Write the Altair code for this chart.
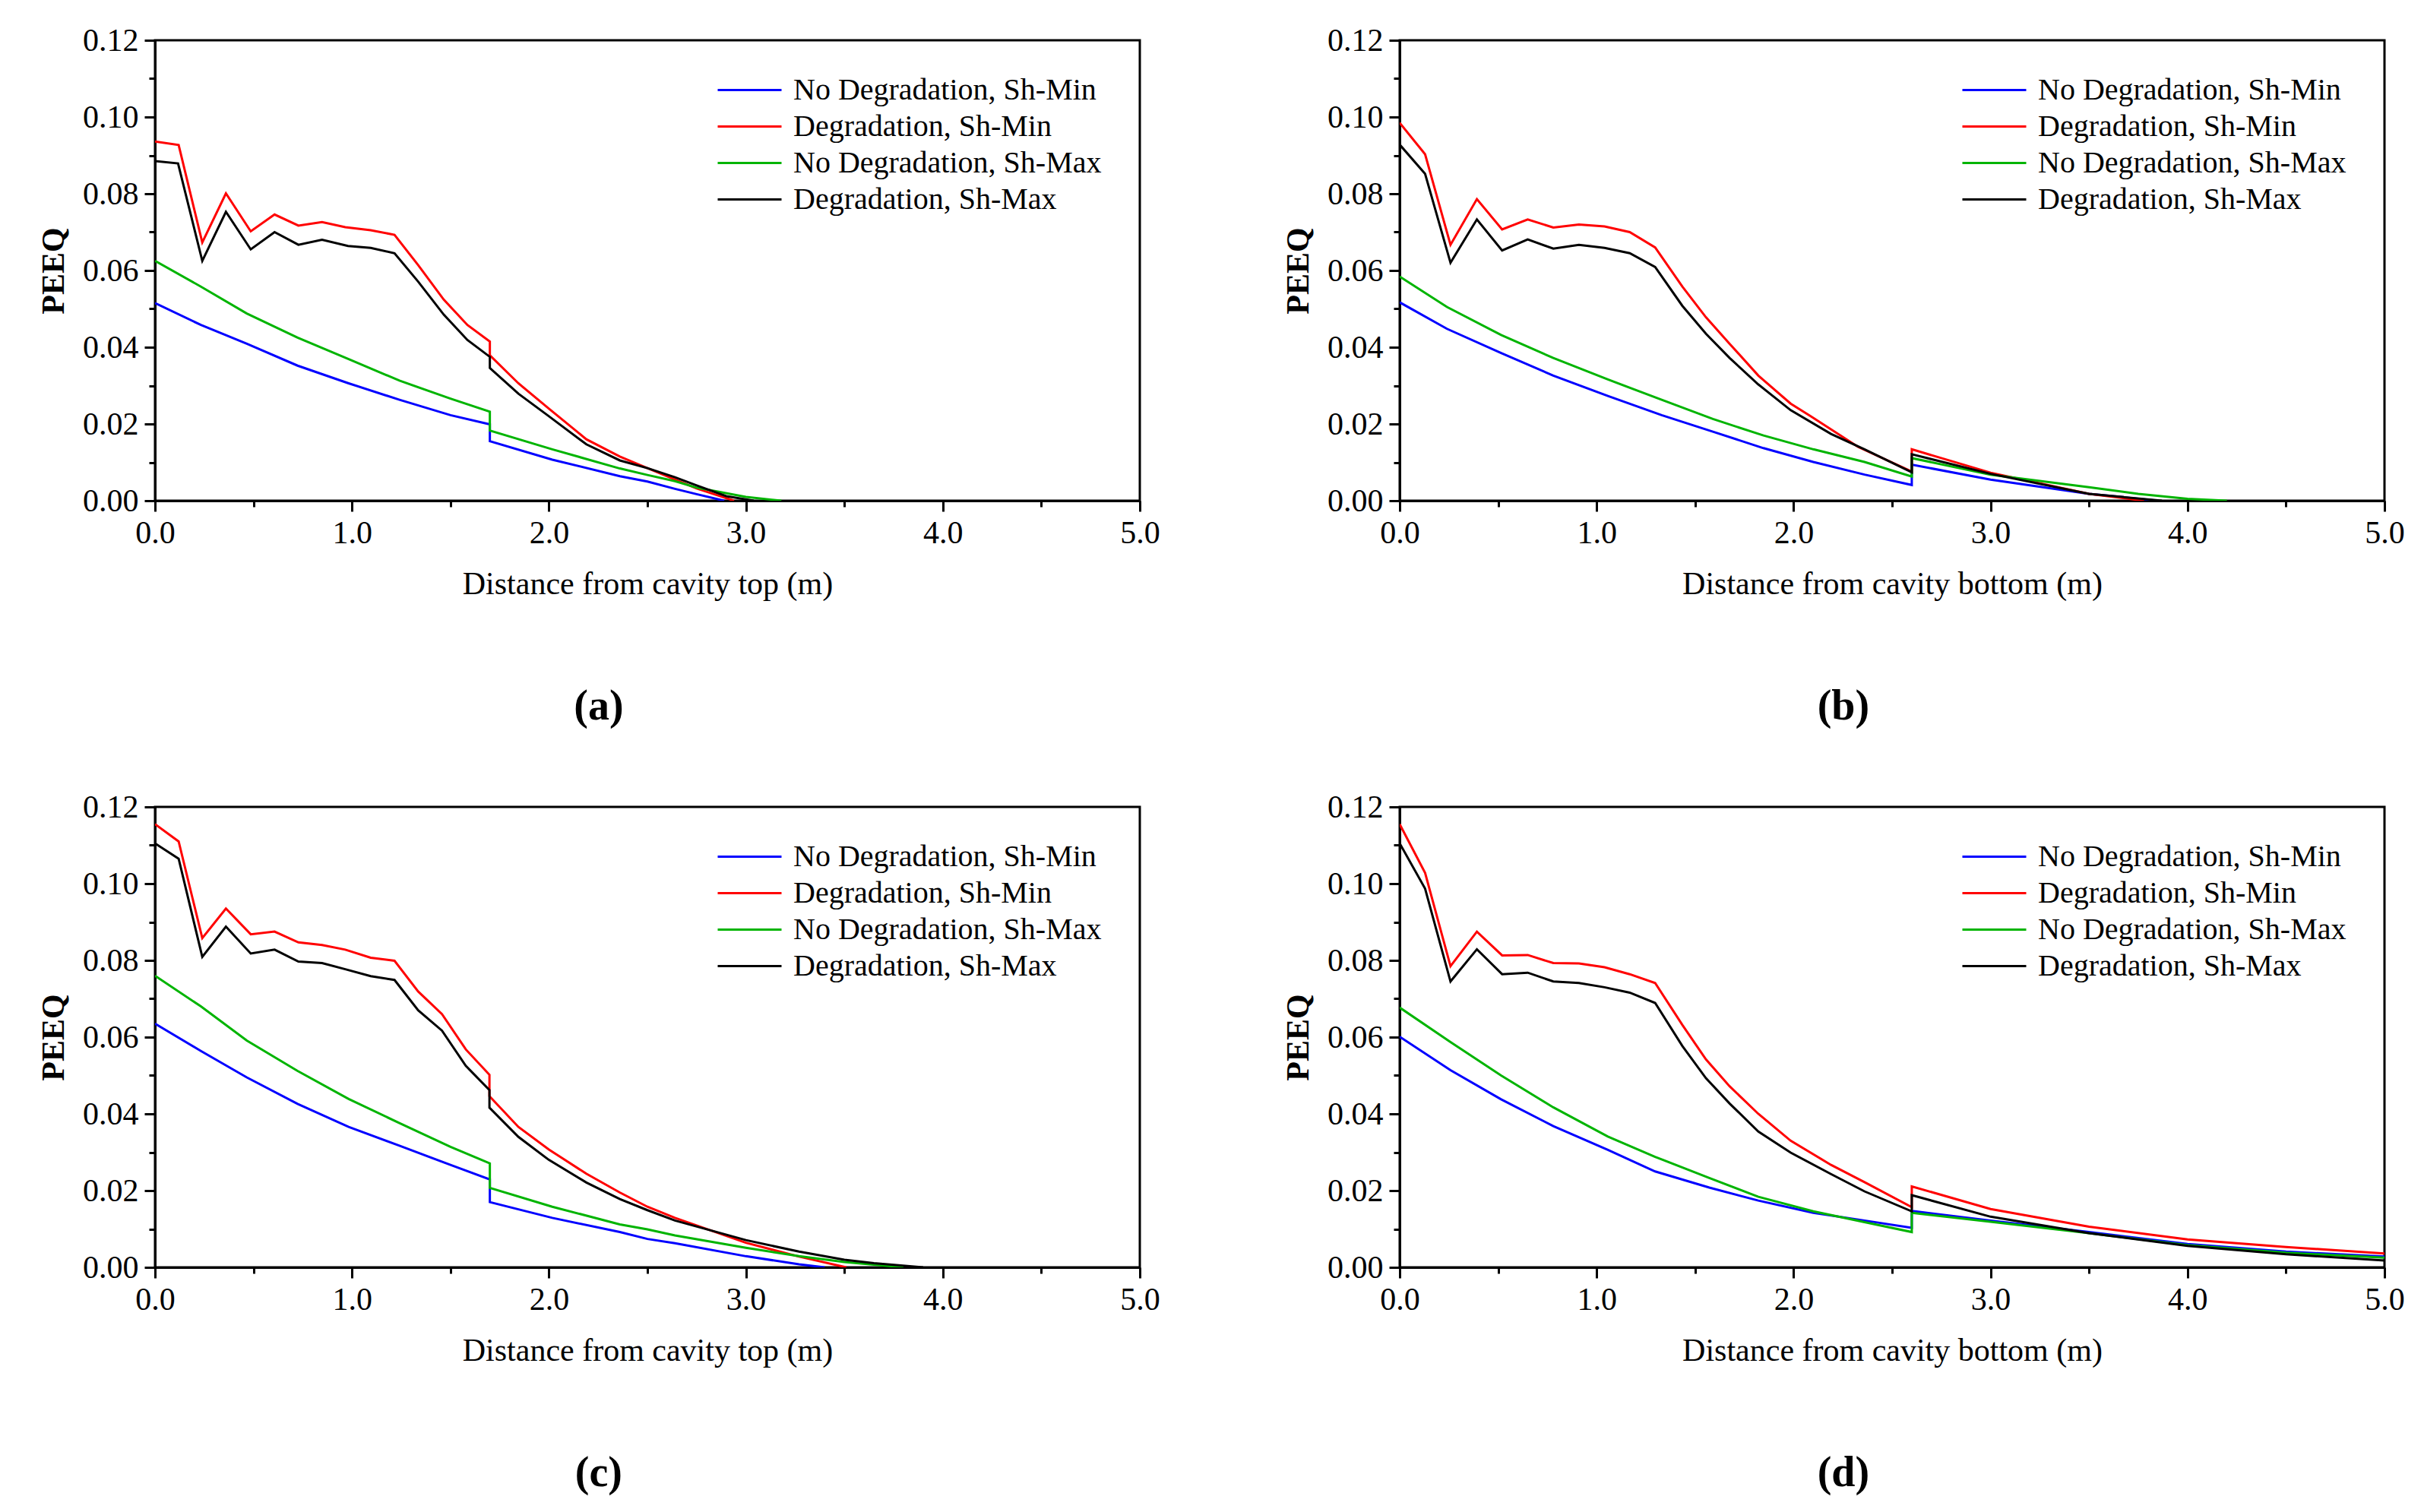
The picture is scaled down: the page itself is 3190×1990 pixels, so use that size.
import altair as alt
import pandas as pd

SERIES = ["No Degradation, Sh-Min", "Degradation, Sh-Min", "No Degradation, Sh-Max", "Degradation, Sh-Max"]
COLORS = ["#0000ff", "#ff0000", "#00b400", "#000000"]
FONT = "Liberation Serif"

# ---------------- panel (a) ----------------
a_blue_x = [0, 0.233, 0.466, 0.724, 0.983, 1.241, 1.5, 1.70, 1.70, 2.017, 2.36, 2.5, 2.64, 2.75, 2.89]
a_blue_y = [0.0515, 0.0458, 0.0409, 0.0352, 0.0306, 0.0263, 0.0223, 0.0199, 0.0155, 0.0107, 0.0064, 0.0050, 0.0031, 0.0017, 0.0]
a_red_x = [0, 0.12, 0.24, 0.36, 0.486, 0.607, 0.728, 0.848, 0.966, 1.095, 1.216, 1.336, 1.466, 1.586, 1.70, 1.70,
           1.845, 2.0, 2.19, 2.36, 2.5, 2.64, 2.75, 2.94]
a_red_y = [0.0936, 0.0927, 0.0673, 0.0801, 0.0702, 0.0746, 0.0717, 0.0726, 0.0713, 0.0705, 0.0693, 0.0614, 0.0524,
           0.0458, 0.0415, 0.0379, 0.0306, 0.0240, 0.0160, 0.0115, 0.0085, 0.0055, 0.0032, 0.0]
a_green_x = [0, 0.233, 0.466, 0.724, 0.983, 1.241, 1.5, 1.70, 1.70, 2.017, 2.36, 2.5, 2.64, 2.75, 3.0, 3.18]
a_green_y = [0.0625, 0.0558, 0.0488, 0.0425, 0.0369, 0.0313, 0.0266, 0.0232, 0.0183, 0.0134, 0.0084, 0.0067, 0.0051,
             0.0034, 0.0010, 0.0]
a_black_x = [0, 0.117, 0.24, 0.36, 0.486, 0.607, 0.728, 0.848, 0.98, 1.095, 1.216, 1.336, 1.466, 1.586, 1.70, 1.70,
             1.845, 2.0, 2.19, 2.36, 2.5, 2.64, 2.75, 2.9, 3.04]
a_black_y = [0.0885, 0.0879, 0.0625, 0.0753, 0.0655, 0.0700, 0.0667, 0.0680, 0.0664, 0.0659, 0.0645, 0.0571, 0.0485,
             0.0419, 0.0375, 0.0346, 0.0279, 0.0220, 0.0147, 0.0105, 0.0085, 0.0061, 0.0040, 0.0012, 0.0]

# ---------------- panel (b) ----------------
b_blue_x = [0, 0.24, 0.515, 0.78, 1.057, 1.33, 1.59, 1.847, 2.1, 2.36, 2.6, 2.6, 3.0, 3.5, 3.85]
b_blue_y = [0.0517, 0.0448, 0.0385, 0.0326, 0.0273, 0.0223, 0.0180, 0.0137, 0.0101, 0.0068, 0.0041, 0.0094, 0.0055,
            0.0018, 0.0]
b_red_x = [0, 0.129, 0.258, 0.392, 0.52, 0.65, 0.78, 0.91, 1.04, 1.168, 1.297, 1.435, 1.555, 1.675, 1.821, 1.985,
           2.088, 2.328, 2.6, 2.6, 3.0, 3.5, 3.78]
b_red_y = [0.0985, 0.0903, 0.0667, 0.0786, 0.0707, 0.0733, 0.0712, 0.0720, 0.0715, 0.0700, 0.0660, 0.0558, 0.0478,
           0.0409, 0.0326, 0.0253, 0.0220, 0.0140, 0.0076, 0.0134, 0.0073, 0.0018, 0.0]
b_green_x = [0, 0.24, 0.515, 0.78, 1.057, 1.33, 1.59, 1.847, 2.1, 2.36, 2.6, 2.6, 3.0, 3.5, 3.75, 4.0, 4.2]
b_green_y = [0.0584, 0.0505, 0.0432, 0.0372, 0.0316, 0.0263, 0.0213, 0.0170, 0.0134, 0.0101, 0.0063, 0.0111, 0.0068,
             0.0035, 0.0018, 0.0005, 0.0]
b_black_x = [0, 0.129, 0.258, 0.392, 0.52, 0.65, 0.78, 0.91, 1.04, 1.168, 1.297, 1.435, 1.555, 1.675, 1.821, 1.985,
             2.19, 2.36, 2.6, 2.6, 3.0, 3.5, 3.87]
b_black_y = [0.0928, 0.0852, 0.0620, 0.0733, 0.0652, 0.0681, 0.0657, 0.0667, 0.0659, 0.0645, 0.0609, 0.0508, 0.0435,
             0.0372, 0.0303, 0.0236, 0.0174, 0.0134, 0.0074, 0.0121, 0.0070, 0.0018, 0.0]

# ---------------- panel (c) ----------------
c_blue_x = [0, 0.233, 0.466, 0.724, 0.983, 1.241, 1.5, 1.70, 1.70, 2.017, 2.36, 2.5, 2.64, 3.0, 3.27, 3.4]
c_blue_y = [0.0635, 0.0564, 0.0495, 0.0426, 0.0366, 0.0317, 0.0267, 0.0229, 0.0170, 0.0129, 0.0092, 0.0074, 0.0063,
            0.0029, 0.0008, 0.0]
c_red_x = [0, 0.12, 0.24, 0.36, 0.486, 0.607, 0.728, 0.848, 0.966, 1.095, 1.216, 1.336, 1.457, 1.578, 1.698, 1.698,
           1.845, 2.0, 2.19, 2.36, 2.5, 2.64, 3.0, 3.27, 3.51]
c_red_y = [0.1155, 0.1110, 0.0858, 0.0935, 0.0868, 0.0875, 0.0847, 0.0840, 0.0828, 0.0807, 0.0799, 0.0719, 0.0660,
           0.0568, 0.0502, 0.0446, 0.0366, 0.0307, 0.0244, 0.0195, 0.0158, 0.0129, 0.0064, 0.0028, 0.0]
c_green_x = [0, 0.233, 0.466, 0.724, 0.983, 1.241, 1.5, 1.70, 1.70, 2.017, 2.36, 2.5, 2.64, 3.0, 3.27, 3.5, 3.65, 3.8]
c_green_y = [0.0760, 0.0680, 0.0591, 0.0512, 0.0439, 0.0376, 0.0314, 0.0271, 0.0207, 0.0158, 0.0112, 0.0099, 0.0083,
             0.0051, 0.0029, 0.0014, 0.0007, 0.0]
c_black_x = [0, 0.12, 0.24, 0.36, 0.486, 0.607, 0.728, 0.848, 0.966, 1.095, 1.216, 1.336, 1.457, 1.578, 1.698, 1.698,
             1.845, 2.0, 2.19, 2.36, 2.5, 2.64, 3.0, 3.27, 3.5, 3.65, 3.9]
c_black_y = [0.1105, 0.1065, 0.0809, 0.0888, 0.0818, 0.0828, 0.0797, 0.0793, 0.0777, 0.0759, 0.0749, 0.0670, 0.0617,
             0.0525, 0.0462, 0.0416, 0.0340, 0.0280, 0.0221, 0.0178, 0.0149, 0.0122, 0.0071, 0.0041, 0.0020, 0.0011, 0.0]

# ---------------- panel (d) ----------------
d_blue_x = [0, 0.258, 0.515, 0.78, 1.057, 1.297, 1.572, 1.821, 2.1, 2.36, 2.6, 2.6, 3.0, 3.5, 4.0, 4.5, 5.0]
d_blue_y = [0.0601, 0.0514, 0.0438, 0.0368, 0.0306, 0.0250, 0.0208, 0.0174, 0.0142, 0.0122, 0.0103, 0.0147, 0.0122,
            0.0092, 0.0061, 0.0041, 0.0028]
d_red_x = [0, 0.129, 0.258, 0.392, 0.52, 0.65, 0.78, 0.91, 1.04, 1.168, 1.297, 1.435, 1.555, 1.675, 1.821, 1.985,
           2.19, 2.36, 2.6, 2.6, 3.0, 3.5, 4.0, 4.5, 5.0]
d_red_y = [0.1155, 0.1028, 0.0785, 0.0875, 0.0813, 0.0814, 0.0793, 0.0792, 0.0782, 0.0764, 0.0741, 0.0632, 0.0542,
           0.0472, 0.0400, 0.0330, 0.0267, 0.0222, 0.0157, 0.0211, 0.0152, 0.0106, 0.0073, 0.0053, 0.0036]
d_green_x = [0, 0.258, 0.515, 0.78, 1.057, 1.297, 1.572, 1.821, 2.1, 2.36, 2.6, 2.6, 3.0, 3.5, 4.0, 4.5, 5.0]
d_green_y = [0.0677, 0.0587, 0.0500, 0.0417, 0.0341, 0.0288, 0.0233, 0.0184, 0.0146, 0.0118, 0.0092, 0.0142, 0.0119,
             0.0089, 0.0058, 0.0038, 0.0025]
d_black_x = [0, 0.129, 0.258, 0.392, 0.52, 0.65, 0.78, 0.91, 1.04, 1.168, 1.297, 1.435, 1.555, 1.675, 1.821, 1.985,
             2.19, 2.36, 2.6, 2.6, 3.0, 3.5, 4.0, 4.5, 5.0]
d_black_y = [0.1105, 0.0987, 0.0745, 0.0829, 0.0764, 0.0768, 0.0745, 0.0741, 0.0730, 0.0716, 0.0689, 0.0577, 0.0493,
             0.0427, 0.0354, 0.0299, 0.0243, 0.0198, 0.0146, 0.0188, 0.0132, 0.0089, 0.0056, 0.0034, 0.0018]

X_TICKS = [i * 0.5 for i in range(11)]
Y_TICKS = [round(i * 0.01, 2) for i in range(13)]


def build_df(curves):
    rows = []
    for name, (xs, ys) in zip(SERIES, curves):
        for i, (x, y) in enumerate(zip(xs, ys)):
            rows.append({"series": name, "i": i, "x": x, "y": y})
    return pd.DataFrame(rows)


def panel(curves, xtitle, tag):
    df = build_df(curves)
    x_axis = alt.Axis(
        values=X_TICKS, title=xtitle, labelFlush=False, labelOverlap=False,
        labelFont=FONT, titleFont=FONT, labelFontSize=42, titleFontSize=42,
        labelExpr="round(datum.value*2) % 2 == 0 ? format(datum.value, '.1f') : ''",
        tickSize={"condition": {"test": "round(datum.value*2) % 2 == 0", "value": 14}, "value": 8},
        labelPadding=8, titlePadding=26, titleFontWeight="normal",
    )
    y_axis = alt.Axis(
        values=Y_TICKS, title="PEEQ", labelFlush=False, labelOverlap=False,
        labelFont=FONT, titleFont=FONT, labelFontSize=42, titleFontSize=42,
        labelExpr="round(datum.value*100) % 2 == 0 ? format(datum.value, '.2f') : ''",
        tickSize={"condition": {"test": "round(datum.value*100) % 2 == 0", "value": 14}, "value": 8},
        labelPadding=8, titlePadding=16, titleFontWeight="bold",
    )
    legend = alt.Legend(
        title=None, orient="none", legendX=757, legendY=40,
        symbolType="M-1.75,0L1.75,0", symbolSize=2304, symbolStrokeWidth=3,
        labelFont=FONT, labelFontSize=40, labelLimit=0,
        labelColor="black", labelOffset=32, padding=0, rowPadding=2,
    )
    return alt.Chart(df).mark_line(strokeWidth=3, clip=True).encode(
        x=alt.X("x:Q", scale=alt.Scale(domain=[0, 5], nice=False, zero=False), axis=x_axis),
        y=alt.Y("y:Q", scale=alt.Scale(domain=[0, 0.12], nice=False), axis=y_axis),
        color=alt.Color("series:N", scale=alt.Scale(domain=SERIES, range=COLORS), legend=legend),
        order=alt.Order("i:Q"),
    ).properties(
        width=1296, height=606,
        title=alt.TitleParams(tag, orient="bottom", anchor="middle", frame="bounds", font=FONT,
                              fontSize=56, fontWeight="bold", color="black", offset=114),
    )


pa = panel([(a_blue_x, a_blue_y), (a_red_x, a_red_y), (a_green_x, a_green_y), (a_black_x, a_black_y)],
           "Distance from cavity top (m)", "(a)")
pb = panel([(b_blue_x, b_blue_y), (b_red_x, b_red_y), (b_green_x, b_green_y), (b_black_x, b_black_y)],
           "Distance from cavity bottom (m)", "(b)")
pc = panel([(c_blue_x, c_blue_y), (c_red_x, c_red_y), (c_green_x, c_green_y), (c_black_x, c_black_y)],
           "Distance from cavity top (m)", "(c)")
pd_ = panel([(d_blue_x, d_blue_y), (d_red_x, d_red_y), (d_green_x, d_green_y), (d_black_x, d_black_y)],
            "Distance from cavity bottom (m)", "(d)")

chart = alt.concat(pa, pb, pc, pd_, columns=2, spacing={"row": 79, "column": 158}).resolve_legend(
    color="independent"
).properties(
    padding={"left": 40, "top": 22, "right": 5, "bottom": 5}, background="white"
).configure(font=FONT).configure_view(
    stroke="black", strokeWidth=3
).configure_axis(
    domainColor="black", domainWidth=3, tickColor="black", tickWidth=3, labelColor="black",
    titleColor="black", labelFont=FONT, titleFont=FONT, labelFontSize=42, titleFontSize=42,
    titleFontWeight="normal", grid=False,
)

chart.save("out.html", embed_options={"renderer": "svg", "actions": False})
